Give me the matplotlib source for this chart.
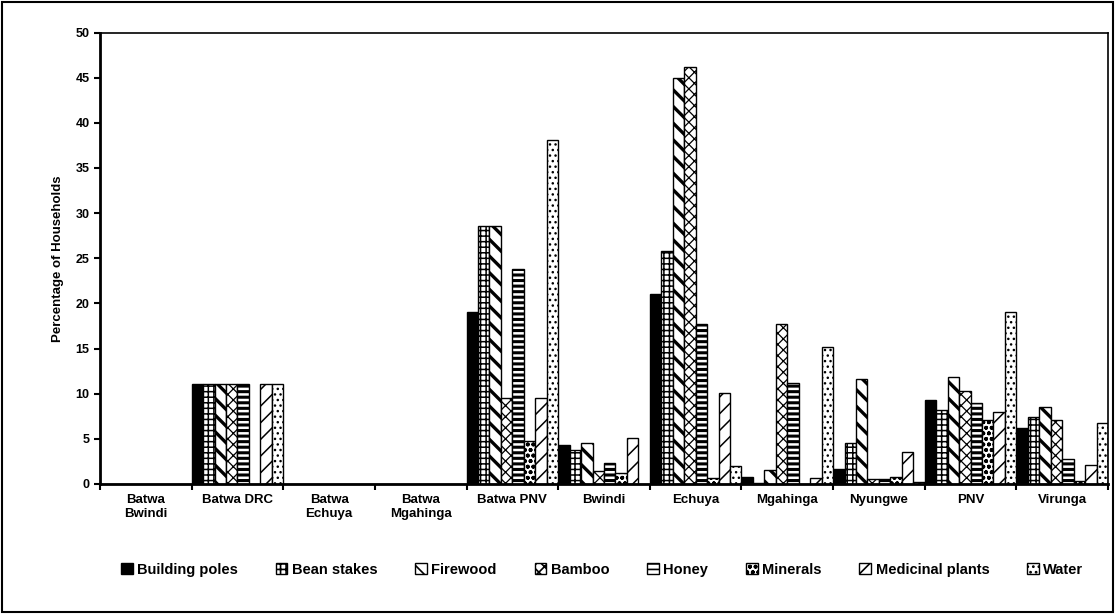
import numpy as np
import matplotlib
matplotlib.use("Agg")
import matplotlib.pyplot as plt
from matplotlib.patches import Patch, Rectangle

plt.rcParams['font.family'] = ['Liberation Sans', 'DejaVu Sans']
plt.rcParams['font.weight'] = 'bold'

# data
categories = ['Batwa\nBwindi', 'Batwa DRC', 'Batwa\nEchuya', 'Batwa\nMgahinga', 'Batwa PNV',
              'Bwindi', 'Echuya', 'Mgahinga', 'Nyungwe', 'PNV', 'Virunga']
series_names = ['Building poles', 'Bean stakes', 'Firewood', 'Bamboo', 'Honey',
                'Minerals', 'Medicinal plants', 'Water']

building_poles = [0, 11.1, 0, 0, 19.0, 4.3, 21.0, 0.8, 1.7, 9.3, 6.2]
bean_stakes = [0, 11.1, 0, 0, 28.6, 3.8, 25.8, 0.1, 4.5, 8.2, 7.4]
firewood = [0, 11.1, 0, 0, 28.6, 4.5, 45.0, 1.6, 11.6, 11.8, 8.5]
bamboo = [0, 11.1, 0, 0, 9.5, 1.4, 46.2, 17.7, 0.5, 10.3, 7.1]
honey = [0, 11.1, 0, 0, 23.8, 2.3, 17.7, 11.2, 0.6, 9.0, 2.8]
minerals = [0, 0, 0, 0, 4.8, 1.2, 0.7, 0, 0.8, 7.1, 0.3]
medicinal = [0, 11.1, 0, 0, 9.5, 5.1, 10.1, 0.7, 3.5, 8.0, 2.1]
water = [0, 11.1, 0, 0, 38.1, 0, 2.0, 15.2, 0.2, 19.0, 6.8]

series = [building_poles, bean_stakes, firewood, bamboo, honey, minerals, medicinal, water]
# black & white hatch styles (approximating the old Excel fills)
faces = ['black', 'white', 'white', 'white', 'white', 'white', 'white', 'white']
hatches = [None, '+++', '\\\\', 'xxx', '---', 'ooo', '//', '...']
hatch_lw = [1.0, 1.1, 2.4, 0.9, 2.2, 1.2, 1.1, 1.0]


def apply_hatch_lw(artist, lw):
    if hasattr(artist, 'set_hatch_linewidth'):
        artist.set_hatch_linewidth(lw)


fig = plt.figure(figsize=(11.15, 6.14), dpi=100)
ax = fig.add_axes([100 / 1115, 130 / 614, 1008 / 1115, 451.5 / 614])

x = np.arange(len(categories))
n = len(series)
w = 1.0 / n
for i, (vals, name) in enumerate(zip(series, series_names)):
    plt.rcParams['hatch.linewidth'] = hatch_lw[i]
    bars = ax.bar(x - 0.5 + w * (i + 0.5), vals, width=w, color=faces[i], edgecolor='black',
                  hatch=hatches[i], linewidth=1.0, label=name)
    for b in bars:
        apply_hatch_lw(b, hatch_lw[i])
plt.rcParams['hatch.linewidth'] = 1.2

ax.set_xlim(-0.5, len(categories) - 0.5)
ax.set_ylim(0, 50)
ax.set_yticks(np.arange(0, 51, 5))
ax.set_xticks(x)
ax.set_xticklabels(categories, fontsize=9.5, fontweight='bold')
ax.set_xticks(np.arange(-0.5, len(categories), 1), minor=True)
ax.tick_params(axis='x', which='major', length=0, pad=7)
ax.tick_params(axis='x', which='minor', length=4, width=1.5, direction='out')
ax.tick_params(axis='y', length=4, width=1.5, labelsize=9, direction='out')
for lab in ax.get_yticklabels():
    lab.set_fontweight('bold')
ax.set_ylabel('Percentage of Households', fontsize=9.5, fontweight='bold', labelpad=8)

ax.spines['left'].set_linewidth(2.0)
ax.spines['bottom'].set_linewidth(2.0)
ax.spines['top'].set_linewidth(1.2)
ax.spines['right'].set_linewidth(1.2)

handles = []
for i in range(n):
    h = Patch(facecolor=faces[i], edgecolor='black', hatch=hatches[i], label=series_names[i])
    apply_hatch_lw(h, min(hatch_lw[i], 1.2))
    handles.append(h)
fig.legend(handles=handles, loc='center', bbox_to_anchor=(0.54, 0.072), ncol=8, frameon=False,
           handlelength=0.8, handleheight=0.8, handletextpad=0.3,
           columnspacing=2.6, prop={'weight': 'bold', 'size': 10.5})

# outer frame of the chart area
fig.patches.append(Rectangle((0.002, 0.003), 0.996, 0.994, transform=fig.transFigure,
                             fill=False, edgecolor='black', linewidth=1.5))

fig.savefig('out.png', dpi=100)
